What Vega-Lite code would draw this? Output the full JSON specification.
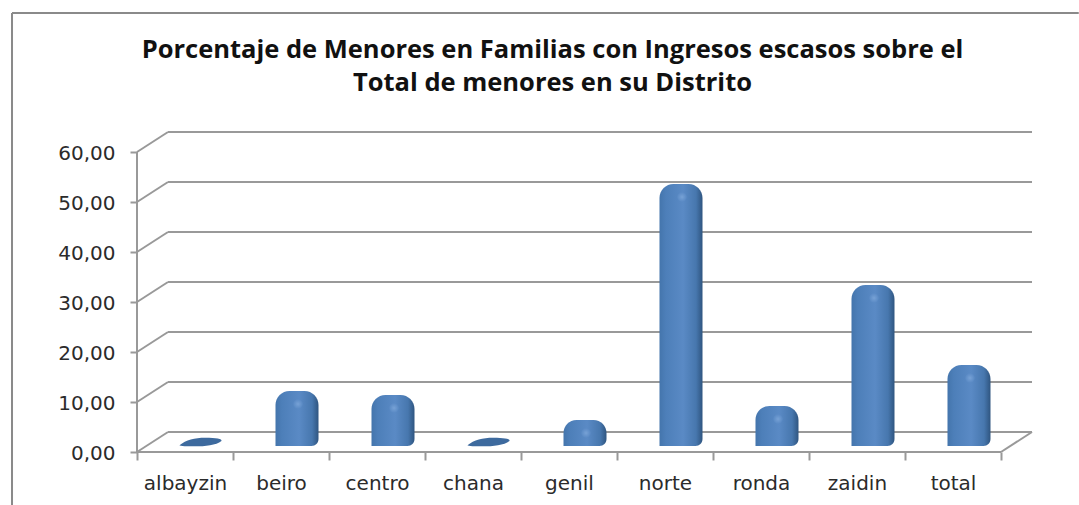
{
"$schema":"https://vega.github.io/schema/vega-lite/v6.json",
"width":895,"height":320,
"autosize":{"type":"none"},
"padding":{"left":137,"top":132,"right":47,"bottom":53},
"background":"white",
"config":{"view":{"stroke":null}},
"title":{"text":["Porcentaje de Menores en Familias con Ingresos escasos  sobre el","Total de menores en su Distrito"],"font":"Open Sans","fontSize":25.5,"fontWeight":"bold","color":"#111111","anchor":"middle","frame":"group","dx":-32,"offset":-109,"lineHeight":33,"baseline":"bottom"},
"datasets":{
"distritos":[
{"distrito":"albayzin","pos":0.5,"valor":0},
{"distrito":"beiro","pos":1.5,"valor":8.6},
{"distrito":"centro","pos":2.5,"valor":7.8},
{"distrito":"chana","pos":3.5,"valor":0},
{"distrito":"genil","pos":4.5,"valor":2.8},
{"distrito":"norte","pos":5.5,"valor":50},
{"distrito":"ronda","pos":6.5,"valor":5.6},
{"distrito":"zaidin","pos":7.5,"valor":29.8},
{"distrito":"total","pos":8.5,"valor":13.8}],
"marco":[
{"x":-1.302,"x2":9.81,"y":87.8,"y2":87.8},
{"x":-1.302,"x2":-1.302,"y":87.8,"y2":-10.6}],
"paredes":[
{"x":0,"x2":0,"y":0,"y2":60},
{"x":0,"x2":9,"y":0,"y2":0},
{"x":0,"x2":0.323,"y":0,"y2":4},
{"x":0.323,"x2":9.323,"y":4,"y2":4},
{"x":9,"x2":9.323,"y":0,"y2":4},
{"x":0,"x2":0.323,"y":10,"y2":14},
{"x":0.323,"x2":9.323,"y":14,"y2":14},
{"x":0,"x2":0.323,"y":20,"y2":24},
{"x":0.323,"x2":9.323,"y":24,"y2":24},
{"x":0,"x2":0.323,"y":30,"y2":34},
{"x":0.323,"x2":9.323,"y":34,"y2":34},
{"x":0,"x2":0.323,"y":40,"y2":44},
{"x":0.323,"x2":9.323,"y":44,"y2":44},
{"x":0,"x2":0.323,"y":50,"y2":54},
{"x":0.323,"x2":9.323,"y":54,"y2":54},
{"x":0,"x2":0.323,"y":60,"y2":64},
{"x":0.323,"x2":9.323,"y":64,"y2":64}]
},
"layer":[
{"data":{"name":"paredes"},"mark":{"type":"rule","stroke":"#999999","strokeWidth":2},
"encoding":{
"x":{"field":"x","type":"quantitative","scale":{"domain":[0,9.323],"nice":false,"zero":false,"padding":0},"axis":{"title":null,"values":[0,1,2,3,4,5,6,7,8,9],"grid":false,"domain":false,"tickColor":"#999999","tickWidth":2,"tickSize":8,"labelExpr":"['albayzin','beiro','centro','chana','genil','norte','ronda','zaidin','total',''][datum.value]","labelOffset":48,"labelFont":"DejaVu Sans","labelFontSize":20,"labelColor":"#2b2b2b","labelPadding":13,"labelBound":false,"labelFlush":false,"labelOverlap":false}},
"x2":{"field":"x2"},
"y":{"field":"y","type":"quantitative","scale":{"domain":[0,64],"nice":false,"zero":false},"axis":{"title":null,"values":[0,10,20,30,40,50,60],"grid":false,"domain":false,"tickColor":"#999999","tickWidth":2,"tickSize":7,"labelExpr":"replace(format(datum.value,'.2f'),'.',',')","labelFont":"DejaVu Sans","labelFontSize":20,"labelColor":"#2b2b2b","labelPadding":15,"labelOffset":1,"labelOverlap":false}},
"y2":{"field":"y2"}}},
{"data":{"name":"marco"},"mark":{"type":"rule","stroke":"#8a8a8a","strokeWidth":2,"clip":false},
"encoding":{"x":{"field":"x","type":"quantitative"},"x2":{"field":"x2"},"y":{"field":"y","type":"quantitative"},"y2":{"field":"y2"}}},
{"data":{"name":"distritos"},"transform":[{"filter":"datum.valor > 0"}],
"mark":{"type":"bar","orient":"vertical","width":43,"xOffset":16,"yOffset":-18,"y2Offset":-6,"cornerRadiusTopLeft":14,"cornerRadiusTopRight":14,"cornerRadiusBottomRight":7,
"fill":{"gradient":"linear","x1":0,"x2":1,"y1":0,"y2":0,"stops":[{"offset":0,"color":"#4475ac"},{"offset":0.15,"color":"#4d7fb9"},{"offset":0.55,"color":"#5a8ac5"},{"offset":0.85,"color":"#4777ae"},{"offset":1,"color":"#2f5580"}]}},
"encoding":{"x":{"field":"pos","type":"quantitative"},"y":{"field":"valor","type":"quantitative"},"y2":{"datum":0}}},
{"data":{"name":"distritos"},"transform":[{"filter":"datum.valor > 0"}],
"mark":{"type":"point","filled":true,"shape":"circle","size":90,"xOffset":17,"yOffset":-5,"fill":{"gradient":"radial","x1":0.5,"y1":0.5,"x2":0.5,"y2":0.5,"r1":0,"r2":0.5,"stops":[{"offset":0,"color":"#7fa8da"},{"offset":1,"color":"#5a8ac5"}]},"opacity":0.8},
"encoding":{"x":{"field":"pos","type":"quantitative"},"y":{"field":"valor","type":"quantitative"}}},
{"data":{"name":"distritos"},"transform":[{"filter":"datum.valor == 0"}],
"mark":{"type":"point","filled":true,"fill":"#3d6a9e","opacity":1,"size":1849,"xOffset":16,"yOffset":-10,"shape":"M-1,0.15 C-0.7,-0.1 -0.3,-0.2 0.2,-0.2 C0.7,-0.2 1,-0.15 0.95,-0.05 C0.7,0.15 0.2,0.2 -0.3,0.2 C-0.6,0.2 -1,0.2 -1,0.15Z"},
"encoding":{"x":{"field":"pos","type":"quantitative"},"y":{"field":"valor","type":"quantitative"}}}
]
}
